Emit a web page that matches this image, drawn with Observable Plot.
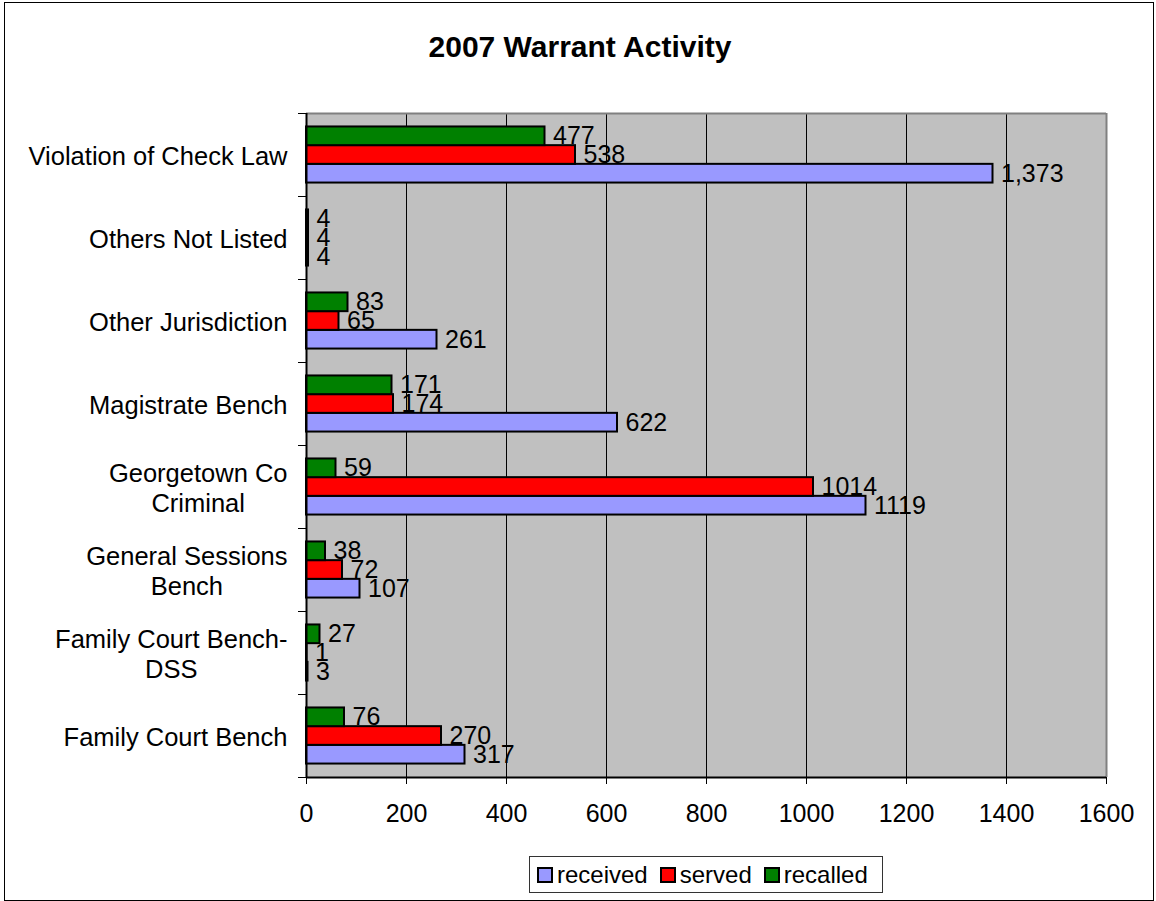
<!DOCTYPE html>
<html>
<head>
<meta charset="utf-8">
<script src="https://cdn.jsdelivr.net/npm/d3@7"></script>
<script src="https://cdn.jsdelivr.net/npm/@observablehq/plot@0.6"></script>
<style>
  body { margin: 0; background: #fff; }
  #wrap { position: relative; width: 1156px; height: 901px; background: #fff; font-family: "Liberation Sans", Arial, sans-serif; color: #000; }
  #frame { position: absolute; left: 4px; top: 2px; width: 1150px; height: 899px; box-sizing: border-box; border: 1px solid #000; }
  #title { position: absolute; left: 0; top: 32px; width: 1160px; text-align: center; font-weight: bold; font-size: 30px; line-height: 30px; }
  #chart { position: absolute; left: 0; top: 80px; }
  #legend { position: absolute; left: 529px; top: 856px; width: 354px; height: 37px; box-sizing: border-box; border: 1px solid #333; display: flex; align-items: center; padding-left: 7px; font-size: 24px; background: #fff; }
  .item { display: flex; align-items: center; margin-right: 12px; }
  .sw { width: 16px; height: 16px; box-sizing: border-box; border: 2px solid #000; margin-right: 4px; }
</style>
</head>
<body>
<div id="wrap">
  <div id="frame"></div>
  <div id="title"></div>
  <div id="chart"></div>
  <div id="legend"></div>
</div>
<script>
const titleText = "2007 Warrant Activity";
const categories = [
  "Violation of Check Law",
  "Others Not Listed",
  "Other Jurisdiction",
  "Magistrate Bench",
  "Georgetown Co\nCriminal",
  "General Sessions\nBench",
  "Family Court Bench-\nDSS",
  "Family Court Bench"
];
const seriesNames = ["received", "served", "recalled"];
const seriesColors = ["#9999ff", "#ff0000", "#008000"];
const stackOrder = ["recalled", "served", "received"]; // top to bottom inside each category
const received = [1373, 4, 261, 622, 1119, 107, 3, 317];
const served = [538, 4, 65, 174, 1014, 72, 1, 270];
const recalled = [477, 4, 83, 171, 59, 38, 27, 76];
const receivedLabels = ["1,373", "4", "261", "622", "1119", "107", "3", "317"];
const servedLabels = ["538", "4", "65", "174", "1014", "72", "1", "270"];
const recalledLabels = ["477", "4", "83", "171", "59", "38", "27", "76"];
const xTicks = [0, 200, 400, 600, 800, 1000, 1200, 1400, 1600];

document.getElementById("title").textContent = titleText;

const values = {received, served, recalled};
const labels = {received: receivedLabels, served: servedLabels, recalled: recalledLabels};

// position of each series inside one category slot
const inner = d3.scaleBand().domain(stackOrder).range([0, 1]).paddingInner(0).paddingOuter(0.72);

const rows = categories.flatMap((c, i) => seriesNames.map(s => ({
  category: c,
  index: i,
  series: s,
  value: values[s][i],
  label: labels[s][i],
  y1: i + inner(s),
  y2: i + inner(s) + inner.bandwidth(),
  yc: i + inner(s) + inner.bandwidth() / 2
})));

const fontStack = '"Liberation Sans", Arial, sans-serif';
const nCat = categories.length;

const svg = Plot.plot({
  width: 1156,
  height: 765,
  marginTop: 33,
  marginBottom: 68,
  marginLeft: 306,
  marginRight: 50,
  style: {fontFamily: fontStack, fontSize: "25px", color: "#000", background: "transparent", overflow: "visible"},
  x: {domain: [0, 1600], label: null},
  y: {domain: [nCat, 0], label: null},
  color: {domain: seriesNames, range: seriesColors},
  marks: [
    Plot.frame({fill: "#c0c0c0", stroke: "none"}),
    Plot.ruleX(xTicks.slice(1, -1), {stroke: "#000", strokeWidth: 1}),
    Plot.rectX(rows, {x1: 0, x2: "value", y1: "y1", y2: "y2", fill: "series", stroke: "#000", strokeWidth: 2}),
    Plot.text(rows, {x: "value", y: "yc", text: "label", textAnchor: "start", dx: 8, fontSize: 25, fill: "#000"}),
    Plot.ruleY([0], {stroke: "#808080", strokeWidth: 2}),
    Plot.ruleX([1600], {stroke: "#808080", strokeWidth: 2}),
    Plot.ruleX([0], {stroke: "#000", strokeWidth: 2}),
    Plot.ruleY([nCat], {stroke: "#000", strokeWidth: 2}),
    Plot.axisY(d3.range(0, nCat + 1), {anchor: "left", tickSize: 8, tickFormat: () => "", stroke: "#000", strokeWidth: 1}),
    Plot.axisX(xTicks, {anchor: "bottom", tickSize: 7, tickPadding: 20, fontSize: 25, stroke: "#000", strokeWidth: 1, tickFormat: d => String(d), label: null}),
    Plot.text(categories, {y: (d, i) => i + 0.5, text: d => d, frameAnchor: "left", textAnchor: "end", dx: -19, lineHeight: 1.2, fontSize: 25.5, fill: "#000"})
  ]
});

document.getElementById("chart").append(svg);

// center the lines of multi-line category labels on each other (as in the reference)
svg.querySelectorAll("text").forEach(t => {
  const spans = t.querySelectorAll("tspan");
  if (spans.length > 1) {
    const w = Math.max(...Array.from(spans, s => s.getComputedTextLength()));
    t.setAttribute("text-anchor", "middle");
    t.setAttribute("transform", (t.getAttribute("transform") || "") + ` translate(${-w / 2},0)`);
  }
});

// legend
const legend = document.getElementById("legend");
seriesNames.forEach((s, i) => {
  const item = document.createElement("div");
  item.className = "item";
  const sw = document.createElement("div");
  sw.className = "sw";
  sw.style.background = seriesColors[i];
  const lab = document.createElement("span");
  lab.textContent = s;
  item.append(sw, lab);
  legend.append(item);
});
</script>
</body>
</html>
